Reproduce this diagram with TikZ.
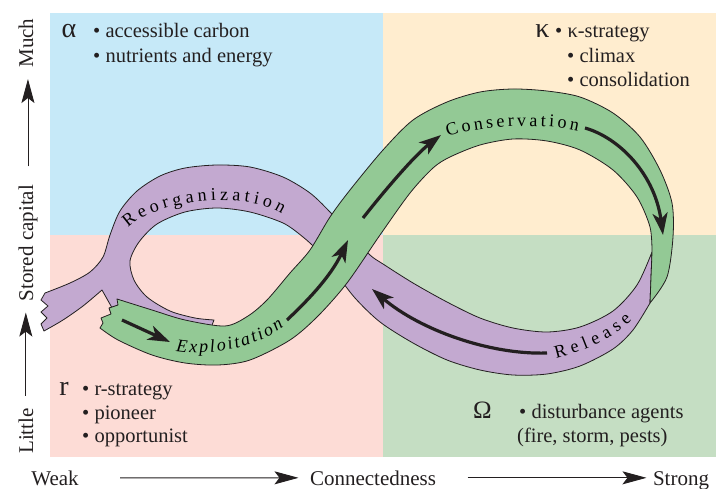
\documentclass[tikz,border=0pt]{standalone}
\usepackage{fontspec}
\setmainfont{Liberation Serif}
\newfontfamily\lsr{Liberation Serif}
\usetikzlibrary{arrows.meta,decorations.text}
\definecolor{qblue}{HTML}{C6E9F8}
\definecolor{qpeach}{HTML}{FFEDCF}
\definecolor{qpink}{HTML}{FDDCD6}
\definecolor{qgreen}{HTML}{C5DEC3}
\definecolor{bandpurple}{HTML}{C3A9D0}
\definecolor{bandgreen}{HTML}{93C995}
\definecolor{ink}{HTML}{231F20}
\newcommand\bandfont{\lsr\fontsize{18pt}{18pt}\selectfont}
\begin{document}
\begin{tikzpicture}[x=1pt,y=-1pt,
  band/.style={draw=ink, line width=0.8pt, line join=round},
  flow/.style={draw=ink, line width=3.2pt, -{Stealth[length=22pt,width=15pt,inset=6pt]}},
  axisarrow/.style={draw=ink, line width=0.9pt, -{Stealth[length=24pt,width=13pt,inset=5pt]}},
  axislabel/.style={font=\lsr\fontsize{21pt}{21pt}\selectfont, text=ink},
  item/.style={font=\lsr\fontsize{20.5pt}{24pt}\selectfont, text=ink, inner sep=0pt, anchor=base west},
  sym/.style={font=\lsr\fontsize{28pt}{28pt}\selectfont, text=ink, inner sep=0pt, anchor=base},
  bandlabel/.style={decorate, decoration={text along path, text align={fit to path}, text={#1}}}
]
\useasboundingbox (0,0) rectangle (727,489);
\fill[white] (0,0) rectangle (727,489);
% quadrants
\fill[qblue] (50,13) rectangle (383,235);
\fill[qpeach] (383,13) rectangle (716,235);
\fill[qpink] (50,235) rectangle (383,457);
\fill[qgreen] (383,235) rectangle (716,457);

% purple band (release + reorganization)
\filldraw[band, fill=bandpurple]
  (44,331) -- (41,324) -- (47,318) -- (41,312) -- (48,306) -- (41,300) -- (45,293)
  -- plot[smooth] coordinates {(45,293) (70,283) (90,272) (103,257) (110,235) (120,211) (137,191) (160,176) (185,168) (217,165) (250,167) (283,177) (310,193) (330,212) (350,234) (370,255) (383,264) (413,283) (447,302) (480,318) (513,328) (547,332) (580,327) (613,311) (637,285) (652,252)}
  -- (650,303)
  -- plot[smooth] coordinates {(650,303) (633,330) (613,349) (580,366) (547,374) (513,375) (480,370) (447,360) (413,343) (380,322) (355,298) (335,272) (318,251) (303,237) (283,223) (250,212) (217,208) (185,212) (157,224) (139,242) (130,261) (134,280) (147,297) (170,311) (195,318) (214,320)}
  -- (209,333) -- (120,322) -- (102,290)
  -- plot[smooth] coordinates {(102,290) (83,306) (63,320) (44,331)}
  -- cycle;

% green band (exploitation + conservation)
\filldraw[band, fill=bandgreen]
  (117,299) -- (118,305) -- (109,308) -- (111,314) -- (101,318) -- (103,323) -- (100,328)
  -- plot[smooth] coordinates {(100,328) (118,340) (152,355) (185,363) (218,365) (250,360) (290,340) (318,316) (347,283) (380,235) (410,193) (433,168) (450,157) (480,145) (513,139) (547,141) (580,150) (613,170) (637,197) (650,227) (652,252)}
  -- (650,303)
  -- plot[smooth] coordinates {(650,303) (667,277) (673,237) (672,203) (660,170) (640,137) (613,113) (580,97) (547,91) (513,89) (480,92) (447,102) (413,120) (383,150) (350,190) (330,217) (310,250) (290,273) (267,300) (248,316) (225,326) (185,320) (152,310) (117,299)}
  -- cycle;

% flow arrows
\coordinate (e1s) at (122,320); \coordinate (e1t) at (170,342);
\draw[flow] (e1s) -- (e1t);
\coordinate (e2s) at (287,320); \coordinate (e2t) at (348,240);
\draw[flow] (e2s) .. controls (305,303) and (330,278) .. (e2t);
\coordinate (e3s) at (363,218); \coordinate (e3t) at (441,135);
\draw[flow] (e3s) .. controls (385,190) and (415,155) .. (e3t);
\coordinate (k1s) at (585,128); \coordinate (k1t) at (663,235);
\draw[flow] (k1s) .. controls (620,138) and (655,175) .. (k1t);
\coordinate (o1s) at (547,353); \coordinate (o1t) at (372,289);
\draw[flow] (o1s) .. controls (490,355) and (420,330) .. (o1t);

% band labels
\path[bandlabel={|\bandfont|Reorganization}] (128,228) .. controls (155,200) and (245,190) .. (282,214);
\path[bandlabel={|\bandfont|Conservation}] (448,137) .. controls (475,126) and (540,122) .. (578,131);
\path[bandlabel={|\bandfont\itshape|Exploitation}] (176,351) .. controls (215,357) and (255,347) .. (284,327);
\path[bandlabel={|\bandfont|Release}] (556,358) .. controls (580,352) and (610,342) .. (632,320);

% quadrant texts
\node[sym] (alpha) at (69,38) {α};
\node[item] (a1) at (93,38) {• accessible carbon};
\node[item] (a2) at (93,63) {• nutrients and energy};
\node[sym] (kappa) at (542.5,38) {κ};
\node[item] (k1) at (555,38) {• κ-strategy};
\node[item] (k2) at (567,63) {• climax};
\node[item] (k3) at (567,87) {• consolidation};
\node[sym] (rsym) at (64,395) {r};
\node[item] (r1) at (82,395) {• r-strategy};
\node[item] (r2) at (82,419) {• pioneer};
\node[item] (r3) at (82,442) {• opportunist};
\node[sym, font=\lsr\fontsize{25pt}{25pt}\selectfont] (omega) at (482.5,418) {Ω};
\node[item] (w1) at (519,418) {• disturbance agents};
\node[item] (w2) at (517,442) {(fire, storm, pests)};

% axes
\node[axislabel, rotate=90, anchor=base] (much) at (33,43) {Much};
\node[axislabel, rotate=90, anchor=base] (stored) at (33,243) {Stored capital};
\node[axislabel, rotate=90, anchor=base] (little) at (33,431) {Little};
\draw[axisarrow, shorten <=15pt, shorten >=8pt] (stored.east) -- (stored.east |- much.west);
\draw[axisarrow, shorten <=9pt, shorten >=8pt] (little.east) -- (little.east |- stored.west);

\node[axislabel, anchor=base] (weak) at (55,485) {Weak};
\node[axislabel, anchor=base] (conn) at (373,485) {Connectedness};
\node[axislabel, anchor=base] (strong) at (681,485) {Strong};
\draw[axisarrow, shorten <=38pt, shorten >=8pt] (weak.east) -- (conn.west);
\draw[axisarrow, shorten <=28pt, shorten >=3pt] (conn.east) -- (conn.east -| strong.west);
\end{tikzpicture}
\end{document}
